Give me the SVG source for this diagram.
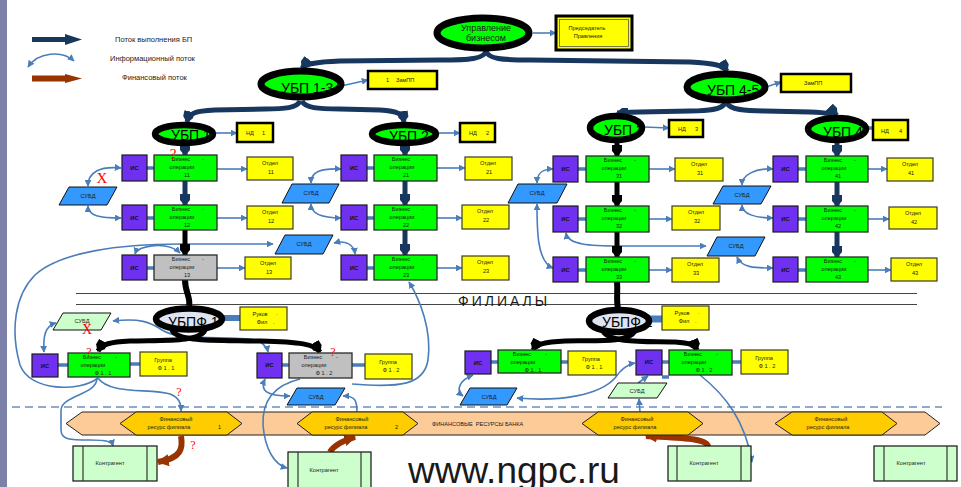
<svg xmlns="http://www.w3.org/2000/svg" width="961" height="487" viewBox="0 0 961 487">
<defs>
<style>
text{font-family:"Liberation Sans",Arial,sans-serif;fill:#1a1a1a}
.s{font-size:5.6px}
.m{text-anchor:middle}
.is{font-size:5.8px;font-weight:bold;fill:#111;text-anchor:middle}
.lg{font-size:7.5px;fill:#222}
.big{font-size:14px;fill:#000}
.q{font-family:"Liberation Serif",serif;fill:#ff0000;text-anchor:middle}
.bo{fill:#00ff00;stroke:#2a2a2a;stroke-width:1.3}
.bog{fill:#c0c0c0;stroke:#2a2a2a;stroke-width:1.3}
.isb{fill:#7030f0;stroke:#1a1a1a;stroke-width:1.2}
.ot{fill:#ffff00;stroke:#3a3a2a;stroke-width:1.2}
.nd{fill:#ffff00;stroke:#000;stroke-width:2.5}
.db{fill:#3399ff;stroke:#111;stroke-width:1}
.dbg{fill:#ccffcc;stroke:#111;stroke-width:1}
.ring{fill:#00ff00;stroke:#000}
.ringf{fill:#dfe4f2;stroke:#000}
.info{fill:none;stroke:#4a7ebb;stroke-width:1.6}
.ia{marker-start:url(#ai);marker-end:url(#ai)}
.ie{marker-end:url(#ai)}
.stub{stroke:#4a7ebb;stroke-width:3.5}
.nav{fill:none;stroke:#17375e;stroke-width:5;marker-end:url(#an)}
.blk{fill:none;stroke:#000;stroke-width:5;marker-end:url(#ab)}
.fin{fill:none;stroke:#993300;stroke-width:6;marker-end:url(#af)}
.hex{fill:#ffcc00;stroke:#222;stroke-width:1}
.kt{fill:#ccffcc;stroke:#111;stroke-width:1.2}
.ktl{stroke:#333;stroke-width:1.2}
</style>
<marker id="ai" viewBox="0 0 10 10" refX="9" refY="5" markerWidth="7" markerHeight="7" markerUnits="userSpaceOnUse" orient="auto-start-reverse"><path d="M0,0 L10,5 L0,10 Z" fill="#4a7ebb"/></marker>
<marker id="an" viewBox="0 0 12 12" refX="11" refY="6" markerWidth="12" markerHeight="12" markerUnits="userSpaceOnUse" orient="auto"><path d="M0,1 L6,1 L12,6 L6,11 L0,11 Z" fill="#17375e"/></marker>
<marker id="ab" viewBox="0 0 12 12" refX="11" refY="6" markerWidth="12" markerHeight="12" markerUnits="userSpaceOnUse" orient="auto"><path d="M0,1 L6,1 L12,6 L6,11 L0,11 Z" fill="#000"/></marker>
<marker id="af" viewBox="0 0 10 10" refX="9" refY="5" markerWidth="12" markerHeight="12" markerUnits="userSpaceOnUse" orient="auto"><path d="M0,0 L10,5 L0,10 Z" fill="#993300"/></marker>
</defs>
<rect width="961" height="487" fill="#ffffff"/>
<rect x="0" y="0" width="7" height="487" fill="#7a80a8"/>

<!-- legend -->
<g id="legend">
<path d="M32,39.5 L66,39.5" stroke="#17375e" stroke-width="5"/>
<path d="M65,34 L82,39.5 L65,45 Z" fill="#17375e"/>
<text class="lg" x="115" y="42">Поток выполнения БП</text>
<path d="M28,67 C38,52 62,50 74,61" class="info ia"/>
<text class="lg" x="110" y="61">Информационный поток</text>
<path d="M32,78.5 L66,78.5" stroke="#993300" stroke-width="6"/>
<path d="M65,74 L82,78.5 L65,83 Z" fill="#993300"/>
<text class="lg" x="122" y="80">Финансовый поток</text>
</g>

<!-- band of financial resources -->
<g id="band">
<polygon points="66,423.5 82,412 925,412 940,423.5 925,435 82,435" fill="#fccb98" stroke="#222" stroke-width="1"/>
<text class="s" x="432" y="426" xml:space="preserve">ФИНАНСОВЫЕ  РЕСУРСЫ БАНКА</text>
</g>
<line x1="12" y1="407" x2="942" y2="407" stroke="#8faacc" stroke-width="2" stroke-dasharray="8 5"/>
<g id="filialy">
<line x1="76" y1="293.5" x2="917" y2="293.5" stroke="#444" stroke-width="1.2"/>
<line x1="76" y1="304.5" x2="917" y2="304.5" stroke="#444" stroke-width="1.2"/>
<text x="458" y="306" font-size="14" letter-spacing="3" fill="#333">ФИЛИАЛЫ</text>
</g>

<!-- connectors -->
<g id="connectors">
<!-- information flows -->
<path class="info ie" d="M533,33 L556,33"/>
<path class="info ie" d="M341,86 L368,80"/>
<path class="info ie" d="M766,87 L781,82"/>
<path class="info ie" d="M216,133 L237,133" stroke-width="2.5"/>
<path class="info ie" d="M438,133 L460,133" stroke-width="2.5"/>
<path class="info ie" d="M644,127 L669,128" stroke-width="2.5"/>
<path class="stub" d="M867,128 L873,128"/>

<path class="stub" d="M147,168 L154,168"/>
<path class="stub" d="M147,218 L154,218"/>
<path class="stub" d="M147,268 L154,268"/>
<path class="stub" d="M367,168 L374,168"/>
<path class="stub" d="M367,218 L374,218"/>
<path class="stub" d="M367,268 L374,268"/>
<path class="stub" d="M578,169 L586,169"/>
<path class="stub" d="M578,219 L586,219"/>
<path class="stub" d="M578,270 L586,270"/>
<path class="stub" d="M798,169 L806,169"/>
<path class="stub" d="M798,219 L806,219"/>
<path class="stub" d="M798,270 L806,270"/>

<path class="info ie" d="M217,169 L247,169" stroke-width="2.5"/>
<path class="info ie" d="M217,218 L247,218" stroke-width="2.5"/>
<path class="info ie" d="M217,268 L245,268" stroke-width="2.5"/>
<path class="info ie" d="M437,168 L465,168" stroke-width="2.5"/>
<path class="info ie" d="M437,218 L462,218" stroke-width="2.5"/>
<path class="info ie" d="M437,268 L462,268" stroke-width="2.5"/>
<path class="info ie" d="M649,169 L675,169" stroke-width="2.5"/>
<path class="info ie" d="M649,219 L672,219" stroke-width="2.5"/>
<path class="info ie" d="M649,270 L672,270" stroke-width="2.5"/>
<path class="info ie" d="M868,169 L887,169" stroke-width="2.5"/>
<path class="info ie" d="M868,219 L889,219" stroke-width="2.5"/>
<path class="info ie" d="M868,270 L891,270" stroke-width="2.5"/>

<path class="info ia" d="M121,168 C100,166 88,172 88,186"/>
<path class="info ia" d="M88,206 C88,216 100,218 121,218"/>
<path class="info ia" d="M135,254 C138,245 168,241 180,253"/>
<path class="info ie" d="M98,378 C80,392 30,392 20,365 C10,330 15,295 35,275 C60,252 120,244 180,244 L273,244"/>
<path class="info ia" d="M341,169 C320,168 311,172 311,183"/>
<path class="info ia" d="M311,204 C311,214 322,218 341,218"/>
<path class="info ia" d="M334,243 C345,240 354,244 355,254"/>
<path class="info ie" d="M352,384 C400,388 424,385 428,360 C432,330 420,300 409,282"/>
<path class="info ia" d="M553,169 C540,169 537,175 537,183"/>
<path class="info ia" d="M537,204 C537,230 537,262 553,268"/>
<path class="info ia" d="M566,233 C568,245 590,246 620,246 L706,246"/>
<path class="info ia" d="M773,169 C755,168 742,175 742,185"/>
<path class="info ia" d="M742,205 C742,214 755,218 773,218"/>
<path class="info ia" d="M737,257 C742,268 755,268 773,268"/>

<path class="stub" d="M58,365 L68,365"/>
<path class="stub" d="M130,364 L140,364"/>
<path class="stub" d="M282,365 L289,365"/>
<path class="stub" d="M352,365 L365,365"/>
<path class="stub" d="M491,362 L498,362"/>
<path class="stub" d="M561,362 L568,362"/>
<path class="stub" d="M662,362 L669,362"/>
<path class="stub" d="M662,377 L669,377"/>
<path class="stub" d="M732,362 L741,362"/>

<path class="info ia" d="M56,323 C45,326 43,336 44,352"/>
<path class="info ia" d="M113,321 C140,318 150,322 162,330 C180,342 230,335 255,340 C264,343 267,347 268,352"/>
<path class="info ie" d="M98,378 C110,395 150,388 170,394 C180,398 181,404 181,411"/>
<path class="info ie" d="M97,378 C97,395 62,395 61,410 L61,430 C61,440 70,440 90,440 C108,440 112,442 113,446"/>
<path class="info ia" d="M265,379 C260,390 265,396 290,396"/>
<path class="info ie" d="M300,379 C275,385 262,400 263,425 C265,450 275,465 287,468"/>
<path class="info ie" d="M357,412 C357,400 355,396 343,396"/>
<path class="info ia" d="M473,375 C460,380 455,390 463,396"/>
<path class="info ia" d="M517,398 C560,402 600,395 615,378 C622,368 628,364 635,363"/>
<path class="info ie" d="M638,383 L648,376"/>
<path class="info ie" d="M700,375 C725,395 745,420 752,462"/>
<path class="info ie" d="M640,412 L639,399"/>

<!-- execution flows -->
<path class="nav" d="M486,51 C484,59 470,60 440,60 L340,61 C315,62 305,64 302,68"/>
<path class="nav" d="M486,51 C488,59 502,60 530,60 L690,62 C715,63 724,66 727,71"/>
<path class="nav" d="M300,101 C297,108 285,109 265,109 L215,110 C195,111 189,113 187,122"/>
<path class="nav" d="M302,101 C305,108 318,109 340,109 L380,110 C398,111 403,114 404,122"/>
<path class="nav" d="M725,103 C722,110 708,111 690,111 L640,112 C626,112 620,113 617,113"/>
<path class="nav" d="M727,103 C730,110 745,111 765,111 L810,112 C830,113 836,114 837,115"/>

<path class="nav" d="M185,144 L185,155"/>
<path class="nav" d="M185,181 L185,205"/>
<path class="blk" d="M185,230 L185,255"/>
<path d="M185,280 C185,292 191,298 189,306" fill="none" stroke="#000" stroke-width="6"/>
<path class="nav" d="M405,144 L405,155"/>
<path class="nav" d="M405,181 L405,205"/>
<path class="nav" d="M405,230 L405,255"/>
<path class="blk" d="M617,141 L617,156"/>
<path class="blk" d="M617,182 L617,206"/>
<path class="blk" d="M617,232 L617,257"/>
<path d="M617,282 C618,292 616,300 618,308" fill="none" stroke="#000" stroke-width="6"/>
<path class="nav" d="M837,141 L837,156"/>
<path class="nav" d="M837,182 L837,206"/>
<path class="nav" d="M837,232 L837,257"/>

<path class="blk" d="M205,330 C200,342 165,340 130,341 C110,342 102,344 98,351"/>
<path class="blk" d="M172,330 C177,342 215,340 260,341 C300,342 315,344 320,352"/>
<path class="blk" d="M635,331 C628,344 590,340 565,341 C545,342 536,344 533,350"/>
<path class="blk" d="M603,331 C610,344 650,341 675,342 C690,343 695,345 697,350"/>
<path d="M218,318 L240,318" stroke="#4a7ebb" stroke-width="6"/>
<path d="M646,319 L662,319" stroke="#4a7ebb" stroke-width="7"/>

<!-- financial flows -->
<path class="fin" d="M181,436 C183,448 182,458 158,462"/>
<path class="fin" d="M330,452 C334,445 342,441 355,437"/>
<path class="fin" d="M708,447 C708,438 680,438 646,436"/>
</g>

<!-- management level -->
<g id="upr">
<ellipse class="ring" cx="483" cy="33" rx="46" ry="15" stroke-width="7"/>
<text class="m" x="486" y="30.5" font-size="9">Управление</text>
<text class="m" x="486" y="41" font-size="9">бизнесом</text>
</g>
<g id="pred">
<rect x="556" y="16" width="76" height="34" fill="#ffff00" stroke="#000" stroke-width="3"/>
<rect x="559.5" y="19.5" width="69" height="27" fill="none" stroke="#555" stroke-width="0.8"/>
<text class="s m" x="587" y="30">Председатель</text>
<text class="s m" x="588" y="38">Правления</text>
</g>
<g id="ubp13">
<ellipse class="ring" cx="301" cy="84" rx="40" ry="13" stroke-width="7"/>
<text class="big" x="281" y="93" font-size="15">УБП 1-3</text>
</g>
<g id="zam1">
<rect x="368" y="71" width="69" height="18" class="nd"/>
<text class="s" x="386" y="82">1</text><text class="s" x="396" y="82">ЗамПП</text>
</g>
<g id="ubp45">
<ellipse class="ring" cx="726" cy="87" rx="39" ry="13" stroke-width="7"/>
<text class="big" x="707" y="95">УБП 4-5</text>
</g>
<g id="zam2">
<rect x="781" y="74" width="70" height="18" class="nd"/>
<text class="s" x="804" y="85">ЗамПП</text>
</g>

<g id="ubp1"><ellipse class="ring" cx="184" cy="134" rx="29" ry="9" stroke-width="6.5"/><text class="big" x="171" y="140">УБП 1</text></g>
<g id="nd1"><rect x="237" y="123" width="36" height="19" class="nd"/><text class="s" x="246" y="135">НД</text><text class="s" x="262" y="135">1</text></g>
<g id="ubp2"><ellipse class="ring" cx="404" cy="134" rx="32" ry="9" stroke-width="6.5"/><text class="big" x="389" y="141">УБП 2</text></g>
<g id="nd2"><rect x="460" y="123" width="35" height="19" class="nd"/><text class="s" x="469" y="135">НД</text><text class="s" x="486" y="135">2</text></g>
<g id="ubp3"><ellipse class="ring" cx="616" cy="128" rx="26" ry="12" stroke-width="6.5"/><text class="big" x="604" y="135">УБП 3</text></g>
<g id="nd3"><rect x="669" y="120" width="34" height="17" class="nd"/><text class="s" x="678" y="131">НД</text><text class="s" x="695" y="131">3</text></g>
<g id="ubp4"><ellipse class="ring" cx="837" cy="129" rx="29" ry="11" stroke-width="6.5"/><text class="big" x="823" y="137">УБП 4</text></g>
<g id="nd4"><rect x="873" y="120" width="35" height="20" class="nd"/><text class="s" x="881" y="133">НД</text><text class="s" x="899" y="133">4</text></g>

<!-- column 1 -->
<g id="is11"><rect class="isb" x="122" y="155" width="25" height="26"/><text class="is" x="134.5" y="170">ИС</text></g>
<g id="bo11"><rect class="bo" x="154" y="155" width="63" height="26"/><text class="s m" x="181" y="161">Бизнес</text><text class="s m" x="203" y="161">-</text><text class="s m" x="182" y="169">операции</text><text class="s m" x="187" y="177">11</text></g>
<g id="ot11"><rect class="ot" x="247" y="157" width="46" height="23"/><text class="s m" x="270" y="165">Отдел</text><text class="s m" x="271" y="174">11</text></g>
<g id="is12"><rect class="isb" x="122" y="205" width="25" height="25"/><text class="is" x="134.5" y="220">ИС</text></g>
<g id="bo12"><rect class="bo" x="154" y="205" width="63" height="25"/><text class="s m" x="181" y="211">Бизнес</text><text class="s m" x="203" y="211">-</text><text class="s m" x="182" y="219">операции</text><text class="s m" x="187" y="227">12</text></g>
<g id="ot12"><rect class="ot" x="247" y="206" width="46" height="23"/><text class="s m" x="270" y="214">Отдел</text><text class="s m" x="271" y="223">12</text></g>
<g id="is13"><rect class="isb" x="122" y="255" width="25" height="25"/><text class="is" x="134.5" y="270">ИС</text></g>
<g id="bo13"><rect class="bog" x="154" y="255" width="63" height="25"/><text class="s m" x="181" y="261">Бизнес</text><text class="s m" x="203" y="261">-</text><text class="s m" x="182" y="269">операции</text><text class="s m" x="187" y="277">13</text></g>
<g id="ot13"><rect class="ot" x="245" y="257" width="46" height="22"/><text class="s m" x="268" y="265">Отдел</text><text class="s m" x="269" y="274">13</text></g>
<g id="db1"><polygon class="db" points="59,205 69,187 117,187 107,205"/><text class="s m" x="88" y="198">СУБД</text></g>
<g id="db0"><polygon class="db" points="275,254 285,235 333,235 323,254"/><text class="s m" x="304" y="246">СУБД</text></g>

<!-- column 2 -->
<g id="is21"><rect class="isb" x="341" y="155" width="26" height="26"/><text class="is" x="354" y="170">ИС</text></g>
<g id="bo21"><rect class="bo" x="374" y="155" width="63" height="26"/><text class="s m" x="401" y="161">Бизнес</text><text class="s m" x="423" y="161">-</text><text class="s m" x="402" y="169">операции</text><text class="s m" x="406" y="177">21</text></g>
<g id="ot21"><rect class="ot" x="465" y="157" width="47" height="23"/><text class="s m" x="488" y="165">Отдел</text><text class="s m" x="489" y="174">21</text></g>
<g id="is22"><rect class="isb" x="341" y="205" width="26" height="25"/><text class="is" x="354" y="220">ИС</text></g>
<g id="bo22"><rect class="bo" x="374" y="205" width="63" height="25"/><text class="s m" x="401" y="211">Бизнес</text><text class="s m" x="423" y="211">-</text><text class="s m" x="402" y="219">операции</text><text class="s m" x="406" y="227">22</text></g>
<g id="ot22"><rect class="ot" x="462" y="205" width="47" height="24"/><text class="s m" x="485" y="213">Отдел</text><text class="s m" x="486" y="222">22</text></g>
<g id="is23"><rect class="isb" x="341" y="255" width="26" height="25"/><text class="is" x="354" y="270">ИС</text></g>
<g id="bo23"><rect class="bo" x="374" y="255" width="63" height="25"/><text class="s m" x="401" y="261">Бизнес</text><text class="s m" x="423" y="261">-</text><text class="s m" x="402" y="269">операции</text><text class="s m" x="406" y="277">23</text></g>
<g id="ot23"><rect class="ot" x="462" y="256" width="47" height="24"/><text class="s m" x="485" y="264">Отдел</text><text class="s m" x="486" y="273">23</text></g>
<g id="db2"><polygon class="db" points="282,203 292,184 339,184 329,203"/><text class="s m" x="311" y="195">СУБД</text></g>

<!-- column 3 -->
<g id="is31"><rect class="isb" x="553" y="156" width="25" height="26"/><text class="is" x="565.5" y="171">ИС</text></g>
<g id="bo31"><rect class="bo" x="586" y="156" width="63" height="26"/><text class="s m" x="613" y="162">Бизнес</text><text class="s m" x="635" y="162">-</text><text class="s m" x="614" y="170">операции</text><text class="s m" x="619" y="178">31</text></g>
<g id="ot31"><rect class="ot" x="675" y="158" width="48" height="23"/><text class="s m" x="699" y="166">Отдел</text><text class="s m" x="700" y="175">31</text></g>
<g id="is32"><rect class="isb" x="553" y="206" width="25" height="26"/><text class="is" x="565.5" y="221">ИС</text></g>
<g id="bo32"><rect class="bo" x="586" y="206" width="63" height="26"/><text class="s m" x="613" y="212">Бизнес</text><text class="s m" x="635" y="212">-</text><text class="s m" x="614" y="220">операции</text><text class="s m" x="619" y="228">32</text></g>
<g id="ot32"><rect class="ot" x="672" y="206" width="48" height="24"/><text class="s m" x="696" y="214">Отдел</text><text class="s m" x="697" y="223">32</text></g>
<g id="is33"><rect class="isb" x="553" y="257" width="25" height="25"/><text class="is" x="565.5" y="272">ИС</text></g>
<g id="bo33"><rect class="bo" x="586" y="257" width="63" height="25"/><text class="s m" x="613" y="263">Бизнес</text><text class="s m" x="635" y="263">-</text><text class="s m" x="614" y="271">операции</text><text class="s m" x="619" y="279">33</text></g>
<g id="ot33"><rect class="ot" x="672" y="258" width="47" height="24"/><text class="s m" x="695" y="266">Отдел</text><text class="s m" x="696" y="275">33</text></g>
<g id="db3"><polygon class="db" points="508,203 518,184 567,184 557,203"/><text class="s m" x="537" y="195">СУБД</text></g>
<g id="db3b"><polygon class="db" points="707,256 717,237 765,237 755,256"/><text class="s m" x="736" y="248">СУБД</text></g>

<!-- column 4 -->
<g id="is41"><rect class="isb" x="773" y="156" width="25" height="26"/><text class="is" x="785.5" y="171">ИС</text></g>
<g id="bo41"><rect class="bo" x="806" y="156" width="62" height="26"/><text class="s m" x="833" y="162">Бизнес</text><text class="s m" x="855" y="162">-</text><text class="s m" x="834" y="170">операции</text><text class="s m" x="838" y="178">41</text></g>
<g id="ot41"><rect class="ot" x="887" y="158" width="46" height="23"/><text class="s m" x="910" y="166">Отдел</text><text class="s m" x="911" y="175">41</text></g>
<g id="is42"><rect class="isb" x="773" y="206" width="25" height="26"/><text class="is" x="785.5" y="221">ИС</text></g>
<g id="bo42"><rect class="bo" x="806" y="206" width="62" height="26"/><text class="s m" x="833" y="212">Бизнес</text><text class="s m" x="855" y="212">-</text><text class="s m" x="834" y="220">операции</text><text class="s m" x="838" y="228">42</text></g>
<g id="ot42"><rect class="ot" x="889" y="207" width="48" height="22"/><text class="s m" x="913" y="215">Отдел</text><text class="s m" x="914" y="224">42</text></g>
<g id="is43"><rect class="isb" x="773" y="257" width="25" height="25"/><text class="is" x="785.5" y="272">ИС</text></g>
<g id="bo43"><rect class="bo" x="806" y="257" width="62" height="25"/><text class="s m" x="833" y="263">Бизнес</text><text class="s m" x="855" y="263">-</text><text class="s m" x="834" y="271">операции</text><text class="s m" x="838" y="279">43</text></g>
<g id="ot43"><rect class="ot" x="891" y="258" width="46" height="23"/><text class="s m" x="914" y="266">Отдел</text><text class="s m" x="915" y="275">43</text></g>
<g id="db4"><polygon class="db" points="713,204 723,186 771,186 761,204"/><text class="s m" x="742" y="197">СУБД</text></g>

<!-- branch 1 -->
<g id="ubpf1"><ellipse class="ringf" cx="189" cy="319" rx="33" ry="10.5" stroke-width="6.5"/><text class="big" x="168" y="327" font-size="13">УБПФ 1</text></g>
<g id="ruk1"><rect class="ot" x="240" y="307" width="47" height="23"/><text class="s m" x="260" y="316">Руков</text><text class="s" x="276" y="315">.</text><text class="s m" x="262" y="324">Фил</text><text class="s" x="273" y="324">.</text></g>
<g id="dbf1"><polygon class="dbg" points="53,330 63,313 111,313 101,330"/><text class="s m" x="82" y="323">СУБД</text></g>
<g id="isf11"><rect class="isb" x="32" y="354" width="26" height="23"/><text class="is" x="45" y="368">ИС</text></g>
<g id="bof11"><rect class="bo" x="68" y="353" width="62" height="24"/><text class="s m" x="92" y="359">Бизнес</text><text class="s m" x="116" y="359">-</text><text class="s m" x="93" y="367">операции</text><text class="s m" x="103" y="375">Ф 1 . 1</text></g>
<g id="grf11"><rect class="ot" x="140" y="352" width="47" height="24"/><text class="s m" x="163" y="362">Группа</text><text class="s m" x="166" y="370">Ф 1 . 1</text></g>
<g id="isf12"><rect class="isb" x="257" y="353" width="25" height="25"/><text class="is" x="269.5" y="367">ИС</text></g>
<g id="bof12"><rect class="bog" x="289" y="353" width="63" height="25"/><text class="s m" x="313" y="359">Бизнес</text><text class="s m" x="337" y="359">-</text><text class="s m" x="314" y="367">операции</text><text class="s m" x="324" y="375">Ф 1 . 2</text></g>
<g id="grf12"><rect class="ot" x="365" y="354" width="47" height="25"/><text class="s m" x="388" y="364">Группа</text><text class="s m" x="391" y="372">Ф 1 . 2</text></g>
<g id="dbf1b"><polygon class="db" points="287,405 297,388 345,388 335,405"/><text class="s m" x="316" y="399">СУБД</text></g>

<!-- branch 2 -->
<g id="ubpf2"><ellipse class="ringf" cx="619" cy="321" rx="30" ry="11" stroke-width="6.5"/><text class="big" x="602" y="327" font-size="13">УБПФ 2</text></g>
<g id="ruk2"><rect class="ot" x="662" y="306" width="47" height="24"/><text class="s m" x="682" y="315">Руков</text><text class="s" x="698" y="314">.</text><text class="s m" x="684" y="323">Фил</text><text class="s" x="695" y="323">.</text></g>
<g id="isf21"><rect class="isb" x="465" y="351" width="26" height="23"/><text class="is" x="478" y="365">ИС</text></g>
<g id="bof21"><rect class="bo" x="498" y="350" width="63" height="23"/><text class="s m" x="522" y="356">Бизнес</text><text class="s m" x="546" y="356">-</text><text class="s m" x="523" y="364">операции</text><text class="s m" x="533" y="372">Ф 1 . 1</text></g>
<g id="grf21"><rect class="ot" x="568" y="351" width="48" height="24"/><text class="s m" x="591" y="361">Группа</text><text class="s m" x="594" y="369">Ф 1 . 1</text></g>
<g id="isf22"><rect class="isb" x="636" y="350" width="26" height="25"/><text class="is" x="649" y="364">ИС</text></g>
<g id="bof22"><rect class="bo" x="669" y="350" width="63" height="25"/><text class="s m" x="693" y="356">Бизнес</text><text class="s m" x="717" y="356">-</text><text class="s m" x="694" y="364">операции</text><text class="s m" x="704" y="372">Ф 1 . 2</text></g>
<g id="grf22"><rect class="ot" x="741" y="350" width="47" height="24"/><text class="s m" x="764" y="360">Группа</text><text class="s m" x="767" y="368">Ф 1 . 2</text></g>
<g id="dbf2"><polygon class="db" points="460,405 470,388 517,388 507,405"/><text class="s m" x="489" y="399">СУБД</text></g>
<g id="dbf2b"><polygon class="dbg" points="608,398 618,383 667,383 657,398"/><text class="s m" x="637" y="393">СУБД</text></g>

<!-- financial resources -->
<g id="fr1"><polygon class="hex" points="120,423.5 136,412 227,412 242,423.5 227,435 136,435"/><text class="s m" x="176" y="421">Финансовый</text><text class="s m" x="169" y="429">ресурс филиала</text><text class="s" x="218" y="429">1</text></g>
<g id="fr2"><polygon class="hex" points="297,423.5 312,412 403,412 418,423.5 403,435 312,435"/><text class="s m" x="352" y="421">Финансовый</text><text class="s m" x="346" y="429">ресурс филиала</text><text class="s" x="395" y="429">2</text></g>
<g id="fr3"><polygon class="hex" points="582,423.5 598,412 688,412 703,423.5 688,435 598,435"/><text class="s m" x="637" y="421">Финансовый</text><text class="s m" x="635" y="429">ресурс филиала</text></g>
<g id="fr4"><polygon class="hex" points="775,423.5 792,412 882,412 897,423.5 882,435 792,435"/><text class="s m" x="831" y="421">Финансовый</text><text class="s m" x="828" y="429">ресурс филиала</text></g>

<!-- counterparties -->
<g id="k1"><rect class="kt" x="73" y="446" width="84" height="35"/><line class="ktl" x1="83" y1="446" x2="83" y2="481"/><line class="ktl" x1="147" y1="446" x2="147" y2="481"/><text class="s m" x="110" y="465">Контрагент</text></g>
<g id="k2"><rect class="kt" x="288" y="452" width="83" height="36"/><line class="ktl" x1="298" y1="452" x2="298" y2="488"/><line class="ktl" x1="361" y1="452" x2="361" y2="488"/><text class="s m" x="324" y="472">Контрагент</text></g>
<g id="k3"><rect class="kt" x="668" y="446" width="83" height="35"/><line class="ktl" x1="677" y1="446" x2="677" y2="481"/><line class="ktl" x1="741" y1="446" x2="741" y2="481"/><text class="s m" x="704" y="465">Контрагент</text></g>
<g id="k4"><rect class="kt" x="874" y="446" width="83" height="35"/><line class="ktl" x1="884" y1="446" x2="884" y2="481"/><line class="ktl" x1="947" y1="446" x2="947" y2="481"/><text class="s m" x="911" y="465">Контрагент</text></g>

<!-- problem marks -->
<g id="marks">
<text class="q" x="173" y="159" font-size="15">?</text>
<text class="q" x="102" y="183" font-size="15">X</text>
<text class="q" x="87" y="334" font-size="14">X</text>
<text class="q" x="89" y="356" font-size="12">?</text>
<text class="q" x="179" y="396" font-size="12">?</text>
<text class="q" x="333" y="356" font-size="12">?</text>
<text class="q" x="193" y="449" font-size="12">?</text>
</g>

<text x="408" y="483" font-size="37" fill="#4a4a55">www.ngpc.ru</text>
</svg>
